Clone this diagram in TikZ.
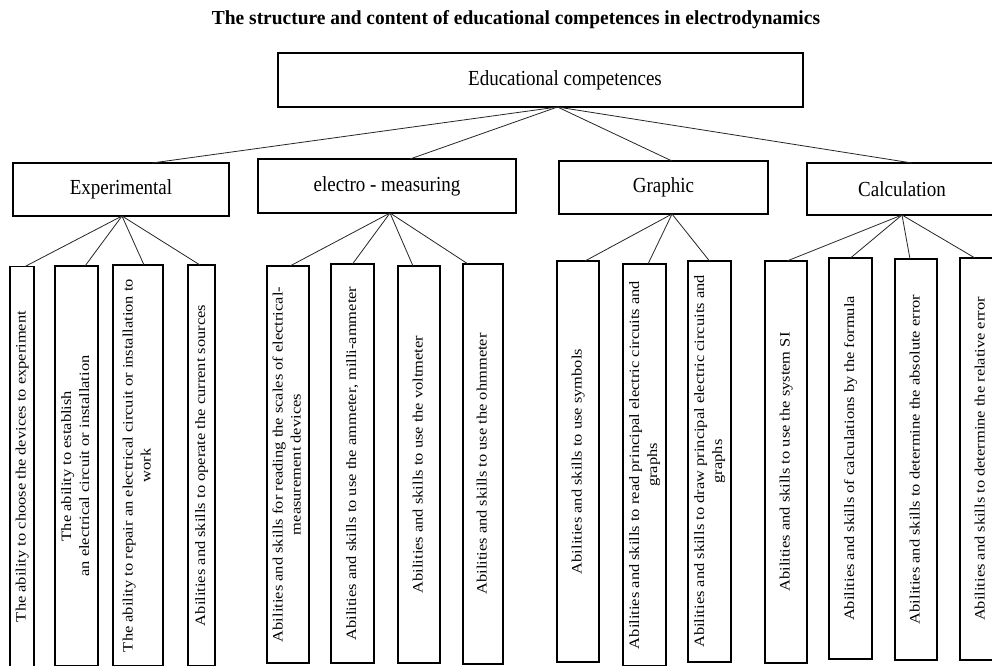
\documentclass[tikz,border=0pt]{standalone}
\usepackage{fontspec}
\setmainfont{Liberation Serif}
\usetikzlibrary{calc}
\newcommand{\hlab}[1]{\scalebox{1}[1.13]{\fontsize{19}{22}\selectfont #1}}
\newcommand{\vlab}[1]{\scalebox{1}[1.15]{\rotatebox{90}{\fontsize{14.3}{18}\selectfont\begin{tabular}{@{}c@{}}#1\end{tabular}}}}
\begin{document}
\begin{tikzpicture}[x=1pt,y=-1pt,
  box/.style={draw=black,line width=1.9pt,inner sep=0pt,outer sep=0pt},
  conn/.style={draw=black!85,line width=0.8pt}]
\useasboundingbox (0,0) rectangle (992,665);
\clip (0,0) rectangle (992,665);
\fill[white] (0,0) rectangle (992,665);
% title
\node[anchor=base,inner sep=0pt] (title) at (516,24)
  {\resizebox{608pt}{14pt}{\bfseries The structure and content of educational competences in electrodynamics}};
% root
\node[box,minimum width=525pt,minimum height=54pt] (top) at (540.5,80)
  {\hspace*{49pt}\hlab{Educational competences}};
\coordinate (tp) at ([xshift=17pt]top.south);
% categories
\node[box,minimum width=216pt,minimum height=53pt] (ex) at (121,189.5) {\hlab{Experimental}};
\node[box,minimum width=258pt,minimum height=54pt] (el) at (387,186) {\hlab{electro - measuring}};
\node[box,minimum width=209pt,minimum height=53pt] (gr) at (663.5,187.5) {\hlab{Graphic}};
\node[box,minimum width=190pt,minimum height=52pt] (ca) at (902,189) {\hlab{Calculation}};
\draw[conn] (tp) -- ([xshift=31pt]ex.north);
\draw[conn] (tp) -- ([xshift=23pt]el.north);
\draw[conn] (tp) -- ([xshift=8.5pt]gr.north);
\draw[conn] (tp) -- ([xshift=10pt]ca.north);
% Experimental children
\node[box,minimum width=24pt,minimum height=400pt] (e1) at (22,466.5)
  {\vlab{The ability to choose the devices to experiment}};
\node[box,minimum width=43pt,minimum height=400pt] (e2) at (76.5,466)
  {\vlab{The ability to establish\\an electrical circuit or installation}};
\node[box,minimum width=50pt,minimum height=401pt] (e3) at (138,465.5)
  {\vlab{The ability to repair an electrical circuit or installation to\\work}};
\node[box,minimum width=27pt,minimum height=401pt] (e4) at (201.5,465.5)
  {\vlab{Abilities and skills to operate the current sources}};
\draw[conn] ([xshift=1pt]ex.south) -- ([xshift=3pt]e1.north);
\draw[conn] ([xshift=1pt]ex.south) -- ([xshift=8.5pt]e2.north);
\draw[conn] ([xshift=1pt]ex.south) -- ([xshift=6pt]e3.north);
\draw[conn] ([xshift=1pt]ex.south) -- ([xshift=-1.5pt]e4.north);
% electro-measuring children
\node[box,minimum width=42pt,minimum height=397pt] (c1) at (288,464.5)
  {\vlab{Abilities and skills for reading the scales of electrical-\\measurement devices}};
\node[box,minimum width=43pt,minimum height=399pt] (c2) at (352.5,463.5)
  {\vlab{Abilities and skills to use the ammeter, milli-ammeter}};
\node[box,minimum width=42pt,minimum height=397pt] (c3) at (419,464.5)
  {\vlab{Abilities and skills to use the voltmeter}};
\node[box,minimum width=40pt,minimum height=400pt] (c4) at (483,464)
  {\vlab{Abilities and skills to use the ohmmeter}};
\draw[conn] ([xshift=3pt]el.south) -- ([xshift=2pt]c1.north);
\draw[conn] ([xshift=3pt]el.south) -- (c2.north);
\draw[conn] ([xshift=3pt]el.south) -- ([xshift=-6pt]c3.north);
\draw[conn] ([xshift=3pt]el.south) -- ([xshift=-15pt]c4.north);
% Graphic children
\node[box,minimum width=42pt,minimum height=401pt] (g1) at (578,461.5)
  {\vlab{Abilities and skills to use symbols}};
\node[box,minimum width=43pt,minimum height=402pt] (g2) at (644.5,465)
  {\vlab{Abilities and skills to read principal electric circuits and\\graphs}};
\node[box,minimum width=43pt,minimum height=401pt] (g3) at (709.5,461.5)
  {\vlab{Abilities and skills to draw principal electric circuits and\\graphs}};
\draw[conn] ([xshift=8.5pt]gr.south) -- ([xshift=7pt]g1.north);
\draw[conn] ([xshift=8.5pt]gr.south) -- ([xshift=3.5pt]g2.north);
\draw[conn] ([xshift=8.5pt]gr.south) -- (g3.north);
% Calculation children
\node[box,minimum width=42pt,minimum height=402pt] (k1) at (786,462)
  {\vlab{Abilities and skills to use the system SI}};
\node[box,minimum width=43pt,minimum height=401pt] (k2) at (850.5,458.5)
  {\vlab{Abilities and skills of calculations by the formula}};
\node[box,minimum width=42pt,minimum height=401pt] (k3) at (916,459.5)
  {\vlab{Abilities and skills to determine the absolute error}};
\node[box,minimum width=42pt,minimum height=402pt] (k4) at (981,459)
  {\vlab{Abilities and skills to determine the relative error}};
\draw[conn] (ca.south) -- ([xshift=1pt]k1.north);
\draw[conn] (ca.south) -- (k2.north);
\draw[conn] (ca.south) -- ([xshift=-6pt]k3.north);
\draw[conn] (ca.south) -- ([xshift=-6pt]k4.north);
\end{tikzpicture}
\end{document}
